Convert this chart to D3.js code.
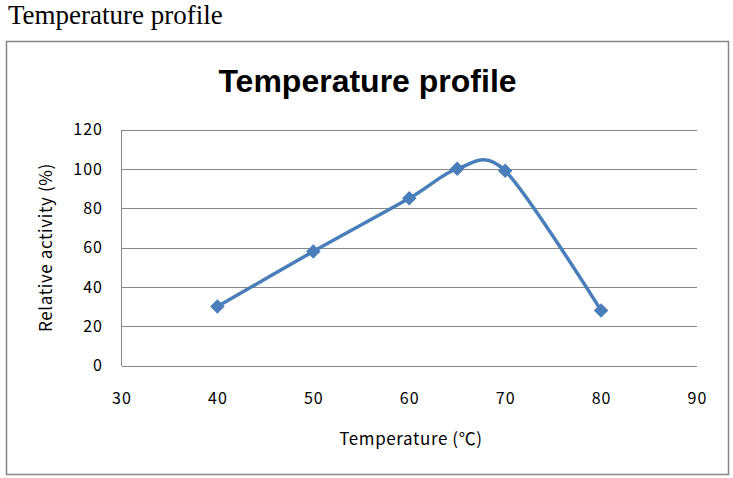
<!DOCTYPE html>
<html>
<head>
<meta charset="utf-8">
<script src="https://cdn.jsdelivr.net/npm/d3@7/dist/d3.min.js"></script>
<style>
  html, body { margin: 0; padding: 0; background: #fff; }
  svg { display: block; }
  .grid line { stroke: #868686; stroke-width: 1; shape-rendering: crispEdges; }
  .tick-label { font-family: "Noto Sans CJK JP", "Liberation Sans", sans-serif; font-size: 16px; letter-spacing: 1px; fill: #000; }
  .axis-title { font-family: "Noto Sans CJK JP", "Liberation Sans", sans-serif; font-size: 17px; letter-spacing: 0.6px; fill: #000; }
</style>
</head>
<body>
<svg id="chart"></svg>
<script>
const temps    = [40, 50, 60, 65, 70, 80];
const activity = [30, 58, 85, 100, 99, 28];
const xTicks   = [30, 40, 50, 60, 70, 80, 90];
const yTicks   = [0, 20, 40, 60, 80, 100, 120];

const SVG_W = 733;
const SVG_H = 478;
const PLOT  = { left: 121.5, right: 697, top: 129.5, bottom: 365.5 };

const xScale = d3.scaleLinear().domain([30, 90]).range([PLOT.left, PLOT.right]);
const yScale = d3.scaleLinear().domain([0, 120]).range([PLOT.bottom, PLOT.top]);

const svg = d3.select('#chart')
  .attr('width', SVG_W)
  .attr('height', SVG_H);

// caption above the frame
svg.append('text')
  .attr('x', 8).attr('y', 24)
  .attr('font-family', '"Liberation Serif", "Times New Roman", serif')
  .attr('font-size', 27)
  .text('Temperature profile');

// chart frame
svg.append('rect')
  .attr('x', 6.5).attr('y', 41.5)
  .attr('width', 722).attr('height', 433)
  .attr('fill', '#fff')
  .attr('stroke', '#868686')
  .attr('stroke-width', 1.5);

svg.append('text')
  .attr('x', 367.5).attr('y', 92)
  .attr('text-anchor', 'middle')
  .attr('font-family', '"Liberation Sans", Arial, sans-serif')
  .attr('font-weight', 'bold')
  .attr('font-size', 32)
  .text('Temperature profile');

// horizontal gridlines
const grid = svg.append('g').attr('class', 'grid');
grid.selectAll('line.h')
  .data(yTicks)
  .enter().append('line')
  .attr('x1', PLOT.left).attr('x2', PLOT.right)
  .attr('y1', d => Math.round(yScale(d)) + 0.5)
  .attr('y2', d => Math.round(yScale(d)) + 0.5);

// y axis line
grid.append('line')
  .attr('x1', PLOT.left).attr('x2', PLOT.left)
  .attr('y1', PLOT.top).attr('y2', PLOT.bottom);

// tick labels
svg.append('g').selectAll('text')
  .data(yTicks)
  .enter().append('text')
  .attr('class', 'tick-label')
  .attr('x', 103)
  .attr('y', d => yScale(d))
  .attr('dy', '0.36em')
  .attr('text-anchor', 'end')
  .text(d => d);

svg.append('g').selectAll('text')
  .data(xTicks)
  .enter().append('text')
  .attr('class', 'tick-label')
  .attr('x', d => xScale(d) + 0.5)
  .attr('y', 398)
  .attr('dy', '0.36em')
  .attr('text-anchor', 'middle')
  .text(d => d);

// axis titles
svg.append('text')
  .attr('class', 'axis-title')
  .attr('x', 411)
  .attr('y', 438.5)
  .attr('dy', '0.36em')
  .attr('text-anchor', 'middle')
  .text('Temperature (℃)');

svg.append('text')
  .attr('class', 'axis-title')
  .attr('transform', `translate(46,${(PLOT.top + PLOT.bottom) / 2}) rotate(-90)`)
  .attr('dy', '0.36em')
  .attr('text-anchor', 'middle')
  .text('Relative activity (%)');

// series
const pts = temps.map((t, i) => [t, activity[i]]);

const line = d3.line()
  .x(d => xScale(d[0]))
  .y(d => yScale(d[1]))
  .curve(d3.curveCardinal.tension(0.1));

svg.append('path')
  .datum(pts)
  .attr('d', line)
  .attr('fill', 'none')
  .attr('stroke', '#4A7EBB')
  .attr('stroke-width', 3.5)
  .attr('stroke-linejoin', 'round')
  .attr('stroke-linecap', 'round');

const marker = d3.symbol().type(d3.symbolSquare).size(85);

svg.append('g').selectAll('path')
  .data(pts)
  .enter().append('path')
  .attr('d', marker)
  .attr('transform', d => `translate(${xScale(d[0])},${yScale(d[1])}) rotate(45)`)
  .attr('fill', '#4A7EBB')
  .attr('stroke', '#4A7EBB')
  .attr('stroke-width', 1);
</script>
</body>
</html>
